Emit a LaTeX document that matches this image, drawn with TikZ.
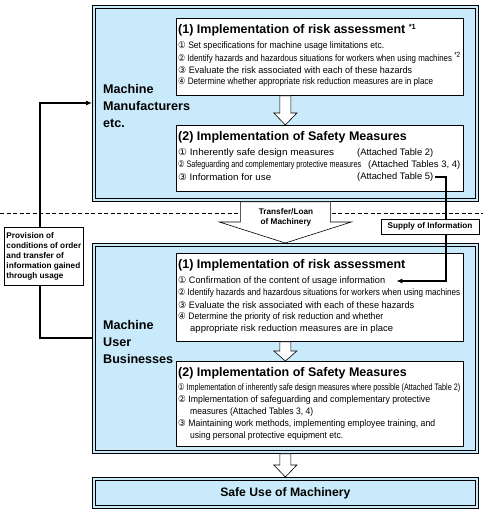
\documentclass[tikz,border=0pt]{standalone}
\usepackage{fontspec}
\usepackage{graphicx}
\setmainfont{Liberation Sans}
\newfontfamily\circfont{DejaVu Sans}
\usetikzlibrary{arrows.meta,calc}

\definecolor{panelblue}{RGB}{201,234,250}

\newcommand\itemfont{\fontsize{9.4}{11}\selectfont}
\newcommand\headfont{\fontsize{12.5}{14}\selectfont\bfseries}
\newcommand\sidefont{\fontsize{12.6}{17}\selectfont\bfseries}
\newcommand\tagfont{\fontsize{8.2}{10.2}\selectfont\bfseries}
\newcommand\cn[1]{{\circfont #1}\ }
\newcommand\squeeze[2]{\resizebox{#1}{\height}{#2}}
\newcommand\note[1]{\raisebox{3.5pt}{\fontsize{7.5}{7.5}\selectfont *#1}}
% hollow arrow: from, to, shaft half width, head half width, head length
\newcommand\flowdown[5]{%
  \draw[hollow] let \p1=(#1), \p2=(#2) in
    (\x2-#3,\y1) -- (\x2+#3,\y1) -- (\x2+#3,\y2+#5) -- (\x2+#4,\y2+#5)
    -- (\x2,\y2) -- (\x2-#4,\y2+#5) -- (\x2-#3,\y2+#5) -- cycle;}

\tikzset{
  panel/.style={draw, fill=panelblue, line width=0.7pt, anchor=north west, inner sep=0pt},
  frame/.style={line width=0.7pt},
  stepbox/.style={draw, fill=white, line width=0.7pt, anchor=north west, inner sep=0pt},
  tagbox/.style={draw, fill=white, line width=0.7pt, inner sep=0pt, font=\tagfont},
  line/.style={anchor=west, inner sep=0pt, font=\itemfont},
  head/.style={anchor=west, inner sep=0pt, font=\headfont},
  side/.style={anchor=west, inner sep=0pt, align=left, font=\sidefont},
  link/.style={line width=1.1pt},
  hollow/.style={draw, fill=white, line width=0.6pt, line join=miter},
  dashes/.style={line width=0.6pt, dash pattern=on 4pt off 2.5pt},
}

\begin{document}
\begin{tikzpicture}[x=1pt,y=-1pt]
\useasboundingbox (0,0) rectangle (483,511);

% panels with a double frame
\node[panel, minimum width=386pt, minimum height=196pt] (mfr) at (92,5) {};
\node[panel, minimum width=386pt, minimum height=210pt] (usr) at (92,243) {};
\node[panel, minimum width=386pt, minimum height=31pt, font=\fontsize{12.2}{14}\selectfont\bfseries] (safe) at (92,477) {Safe Use of Machinery};
\foreach \p in {mfr,usr,safe}
  \draw[frame] ($(\p.north west)+(3.3,3.3)$) rectangle ($(\p.south east)+(-3.3,-3.3)$);

% machine manufacturers
\node[side] (mfr-name) at (103,106) {Machine\\Manufacturers\\etc.};
\node[stepbox, minimum width=287pt, minimum height=77pt] (mra) at (176,18) {};
\node[head] (mra-t) at (178,30) {(1) Implementation of risk assessment \note{1}};
\node[line] (mra-1) at (178,46) {\squeeze{206pt}{\cn{①}Set specifications for machine usage limitations etc.}};
\node[line] (mra-2) at (178,58) {\squeeze{282pt}{\cn{②}Identify hazards and hazardous situations for workers when using machines \note{2}}};
\node[line] (mra-3) at (178,70) {\squeeze{234pt}{\cn{③}Evaluate the risk associated with each of these hazards}};
\node[line] (mra-4) at (178,82) {\squeeze{255pt}{\cn{④}Determine whether appropriate risk reduction measures are in place}};
\node[stepbox, minimum width=287pt, minimum height=66pt] (mrb) at (176,125) {};
\node[head] (mrb-t) at (178,137) {(2) Implementation of Safety Measures};
\node[line] (mrb-1) at (178,153) {\squeeze{156pt}{\cn{①}Inherently safe design measures}};
\node[line] (mrb-1r) at (357,153) {\squeeze{76pt}{(Attached Table 2)}};
\node[line] (mrb-2) at (178,165) {\squeeze{183pt}{\cn{②}Safeguarding and complementary protective measures}};
\node[line] (mrb-2r) at (368,165) {\squeeze{92pt}{(Attached Tables 3, 4)}};
\node[line] (mrb-3) at (178,177) {\squeeze{93pt}{\cn{③}Information for use}};
\node[line] (mrb-3r) at (357,177) {\squeeze{76pt}{(Attached Table 5)}};
\flowdown{mra.south}{mfr.center |- mrb.north}{5.5pt}{11.5pt}{12pt}

% machine users
\node[side] (usr-name) at (103,342) {Machine\\User\\Businesses};
\node[stepbox, minimum width=287pt, minimum height=88pt] (usa) at (176,253) {};
\node[head] (usa-t) at (178,265) {(1) Implementation of risk assessment};
\node[line] (usa-1) at (178,281) {\squeeze{207pt}{\cn{①}Confirmation of the content of usage information}};
\node[line] (usa-2) at (178,293) {\squeeze{282pt}{\cn{②}Identify hazards and hazardous situations for workers when using machines}};
\node[line] (usa-3) at (178,305) {\squeeze{236pt}{\cn{③}Evaluate the risk associated with each of these hazards}};
\node[line] (usa-4) at (178,317) {\squeeze{205pt}{\cn{④}Determine the priority of risk reduction and whether}};
\node[line] (usa-4b) at (190,329) {\squeeze{203pt}{appropriate risk reduction measures are in place}};
\node[stepbox, minimum width=287pt, minimum height=85pt] (usb) at (176,361) {};
\node[head] (usb-t) at (178,373) {(2) Implementation of Safety Measures};
\node[line] (usb-1) at (178,388) {\squeeze{282pt}{\cn{①}Implementation of inherently safe design measures where possible (Attached Table 2)}};
\node[line] (usb-2) at (178,400) {\squeeze{252pt}{\cn{②}Implementation of safeguarding and complementary protective}};
\node[line] (usb-2b) at (190,412) {\squeeze{123pt}{measures (Attached Tables 3, 4)}};
\node[line] (usb-3) at (178,424) {\squeeze{257pt}{\cn{③}Maintaining work methods, implementing employee training, and}};
\node[line] (usb-3b) at (190,436) {\squeeze{153pt}{using personal protective equipment etc.}};
\flowdown{usa.south}{usr.center |- usb.north}{5.5pt}{11.5pt}{10pt}
\flowdown{usr.south}{usr.center |- safe.north}{5.5pt}{11.5pt}{12pt}

% transfer between the two
\draw[dashes] (0,213) -- (483,213);
\flowdown{mfr.south}{usr.north}{45pt}{66pt}{21pt}
\node[align=center, inner sep=0pt, font=\tagfont] (xfer) at (286,217.5) {Transfer/Loan\\of Machinery};

\node[tagbox, minimum width=98pt, minimum height=15pt] (supply) at (430,226.5) {Supply of Information};
\coordinate (bend) at (446,177);
\draw[link, shorten <=2pt] (mrb-3r.east) -- (bend) -- (bend |- supply.north);
\draw[link, -{Latex[length=6pt,width=5pt]}, shorten >=11pt] (bend |- supply.south) |- (usa-1.east);

\node[tagbox, anchor=north west, minimum width=79pt, minimum height=58pt, align=left] (prov) at (4,227)
  {Provision of\\conditions of order\\and transfer of\\information gained\\through usage};
\coordinate (fb-top) at (40,103);
\coordinate (fb-bot) at (40,338);
\draw[link, -{Latex[length=6pt,width=5pt]}] (fb-top |- prov.north) -- (fb-top) -- (fb-top -| mfr.west);
\draw[link] (fb-bot -| usr.west) -- (fb-bot) -- (fb-bot |- prov.south);
\end{tikzpicture}
\end{document}
